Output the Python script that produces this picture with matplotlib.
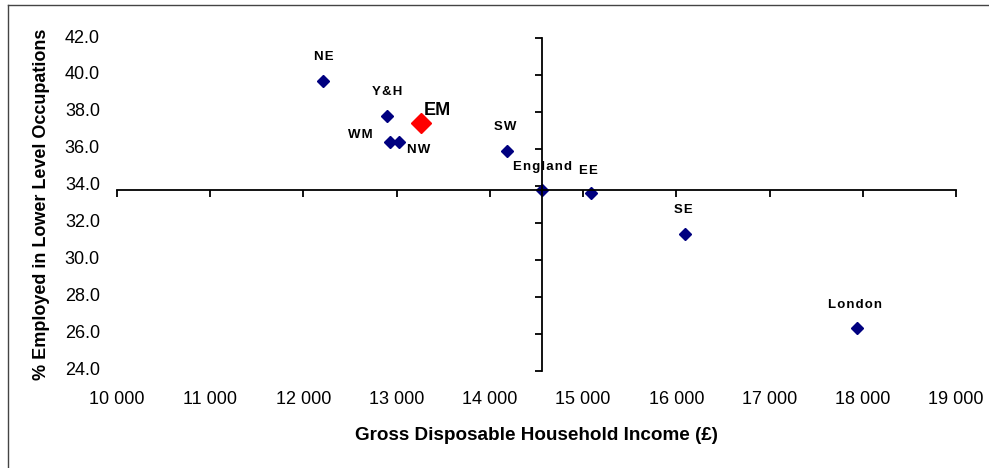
import matplotlib.pyplot as plt
from matplotlib.lines import Line2D
import matplotlib.transforms as mtransforms

plt.rcParams['font.family'] = ['Liberation Sans', 'DejaVu Sans']

regions = ['NE', 'Y&H', 'WM', 'NW', 'SW', 'England', 'EE', 'SE', 'London']
income = [12215, 12895, 12930, 13030, 14180, 14560, 15080, 16095, 17940]
lower_pct = [39.7, 37.8, 36.4, 36.4, 35.9, 33.8, 33.6, 31.4, 26.3]

em_income = 13260
em_pct = 37.4

england_x = 14560
england_y = 33.8

x_ticks = list(range(10000, 19001, 1000))
y_ticks = [24, 26, 28, 30, 32, 34, 36, 38, 40, 42]

# label offsets in pixels (dx, dy, ha)
offsets = {
    'NE': (0, 24, 'center'),
    'Y&H': (0, 24, 'center'),
    'WM': (-18, 7, 'right'),
    'NW': (8, -8, 'left'),
    'SW': (-1, 24, 'center'),
    'England': (0, 23, 'center'),
    'EE': (-2, 22, 'center'),
    'SE': (-2, 24, 'center'),
    'London': (-2, 23, 'center'),
}

fig = plt.figure(figsize=(9.89, 4.68), dpi=100)
ax = fig.add_axes([0.1183, 0.2073, 0.8483, 0.7115])

ax.plot(income, lower_pct, 'D', color='#000080', ms=6.2, ls='none')
ax.plot([em_income], [em_pct], 'D', color='#ff0000', ms=10, ls='none')

for name, xv, yv in zip(regions, income, lower_pct):
    dx, dy, ha = offsets[name]
    spaced = '\u200a'.join(name)  # the labels are letter spaced
    ax.annotate(spaced, (xv, yv), xytext=(dx, dy), textcoords='offset pixels',
                ha=ha, va='center', fontsize=9.5, fontweight='bold')

ax.annotate('EM', (em_income, em_pct), xytext=(3, 13), textcoords='offset pixels',
            ha='left', va='center', fontsize=13, fontweight='bold')

ax.set_xlim(10000, 19000)
ax.set_ylim(24, 42)

# axes cross at England
ax.spines['left'].set_position(('data', england_x))
ax.spines['bottom'].set_position(('data', england_y))
ax.spines['right'].set_visible(False)
ax.spines['top'].set_visible(False)
for s in ['left', 'bottom']:
    ax.spines[s].set_linewidth(1.3)
ax.set_xticks(x_ticks)
ax.set_yticks(y_ticks)
ax.tick_params(axis='both', direction='out', length=5, width=1.3,
               labelleft=False, labelbottom=False)

# tick labels kept on the outside edges
tx = mtransforms.blended_transform_factory(ax.transData, ax.transAxes)
ty = mtransforms.blended_transform_factory(ax.transAxes, ax.transData)
for xv in x_ticks:
    ax.text(xv, -0.087, f'{xv // 1000} {xv % 1000:03d}', transform=tx,
            ha='center', va='center', fontsize=13)
for yv in y_ticks:
    ax.text(-0.0203, yv, f'{yv:.1f}', transform=ty,
            ha='right', va='center', fontsize=13)

ax.text(0.5, -0.195, 'Gross Disposable Household Income (£)', transform=ax.transAxes,
        ha='center', va='center', fontsize=13.6, fontweight='bold')
ax.text(-0.0905, 0.5, '% Employed in Lower Level Occupations', transform=ax.transAxes,
        ha='center', va='center', rotation=90, fontsize=13, fontweight='bold')

# chart border
fig.add_artist(Line2D([8 / 989, 8 / 989], [0, 1 - 5 / 468], color='#444444', lw=1))
fig.add_artist(Line2D([8 / 989, 1], [1 - 5 / 468, 1 - 5 / 468], color='#444444', lw=1))

fig.savefig('out.png', dpi=100)
